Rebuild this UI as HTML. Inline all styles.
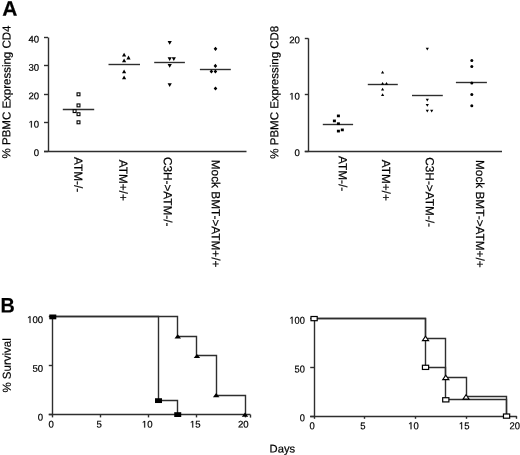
<!DOCTYPE html>
<html><head><meta charset="utf-8"><style>
html,body{margin:0;padding:0;background:#fff;}
svg{display:block;filter:grayscale(1);}
text{font-family:"Liberation Sans", sans-serif;fill:#000;stroke:#000;stroke-width:0.2px;}
</style></head><body>
<svg width="520" height="455" viewBox="0 0 520 455">
<rect width="520" height="455" fill="#fff"/>
<text x="2.3" y="15.8" font-size="21" text-anchor="start" font-weight="bold" transform="rotate(0.05 2.3 15.8)">A</text>
<text transform="translate(0.4 312.5) rotate(0.05) scale(0.94 1)" font-size="21" font-weight="bold">B</text>
<line x1="48.5" y1="37.5" x2="48.5" y2="151" stroke="#2e2e2e" stroke-width="1.4"/>
<line x1="44" y1="151.5" x2="246.5" y2="151.5" stroke="#2e2e2e" stroke-width="1.4"/>
<line x1="44" y1="151.5" x2="48" y2="151.5" stroke="#2e2e2e" stroke-width="1.4"/>
<text transform="translate(33.861 155.9) rotate(0.05) scale(1.0 1)" font-size="9.6">0</text>
<line x1="44" y1="122.5" x2="48" y2="122.5" stroke="#2e2e2e" stroke-width="1.4"/>
<path transform="translate(28.522 127.525) scale(0.004687 -0.004687)" d="M515,0 L515,1237 L197,1010 L197,1180 L530,1409 L696,1409 L696,0 Z" fill="#000" stroke="#000" stroke-width="42.7"/>
<text transform="translate(33.861 127.525) rotate(0.05) scale(1.0 1)" font-size="9.6">0</text>
<line x1="44" y1="94.5" x2="48" y2="94.5" stroke="#2e2e2e" stroke-width="1.4"/>
<text transform="translate(28.522 99.15) rotate(0.05) scale(1.0 1)" font-size="9.6">2</text>
<text transform="translate(33.861 99.15) rotate(0.05) scale(1.0 1)" font-size="9.6">0</text>
<line x1="44" y1="65.5" x2="48" y2="65.5" stroke="#2e2e2e" stroke-width="1.4"/>
<text transform="translate(28.522 70.775) rotate(0.05) scale(1.0 1)" font-size="9.6">3</text>
<text transform="translate(33.861 70.775) rotate(0.05) scale(1.0 1)" font-size="9.6">0</text>
<line x1="44" y1="37.5" x2="48" y2="37.5" stroke="#2e2e2e" stroke-width="1.4"/>
<text transform="translate(28.522 42.4) rotate(0.05) scale(1.0 1)" font-size="9.6">4</text>
<text transform="translate(33.861 42.4) rotate(0.05) scale(1.0 1)" font-size="9.6">0</text>
<text x="10.4" y="92" font-size="11.5" text-anchor="middle" font-weight="normal" transform="rotate(-89.95 10.4 92)">% PBMC Expressing CD4</text>
<text x="74.2" y="157" font-size="11.8" text-anchor="start" font-weight="normal" transform="rotate(90.05 74.2 157)">ATM-/-</text>
<text x="119.3" y="159.7" font-size="11.8" text-anchor="start" font-weight="normal" transform="rotate(90.05 119.3 159.7)">ATM+/+</text>
<text x="163.8" y="156.9" font-size="11.8" text-anchor="start" font-weight="normal" transform="rotate(90.05 163.8 156.9)">C3H-&gt;ATM-/-</text>
<text x="211.8" y="159.8" font-size="11.8" text-anchor="start" font-weight="normal" transform="rotate(90.05 211.8 159.8)">Mock BMT-&gt;ATM+/+</text>
<line x1="62.8" y1="109.5" x2="94.2" y2="109.5" stroke="#2e2e2e" stroke-width="1.4"/>
<line x1="108.5" y1="64.5" x2="140" y2="64.5" stroke="#2e2e2e" stroke-width="1.4"/>
<line x1="154.2" y1="62.5" x2="184.9" y2="62.5" stroke="#2e2e2e" stroke-width="1.4"/>
<line x1="199.9" y1="69.5" x2="230.8" y2="69.5" stroke="#2e2e2e" stroke-width="1.4"/>
<rect x="77.05" y="92.85" width="2.9" height="2.9" fill="#fff" stroke="#000" stroke-width="1.1"/>
<rect x="77.05" y="103.95" width="2.9" height="2.9" fill="#fff" stroke="#000" stroke-width="1.1"/>
<rect x="73.15" y="109.65" width="2.9" height="2.9" fill="#fff" stroke="#000" stroke-width="1.1"/>
<rect x="77.05" y="112.75" width="2.9" height="2.9" fill="#fff" stroke="#000" stroke-width="1.1"/>
<rect x="77.05" y="120.85" width="2.9" height="2.9" fill="#fff" stroke="#000" stroke-width="1.1"/>
<polygon points="124.1,52.800000000000004 126.19999999999999,56.6 122.0,56.6" fill="#000"/>
<polygon points="128.5,55.6 130.6,59.4 126.4,59.4" fill="#000"/>
<polygon points="124.1,58.5 126.19999999999999,62.3 122.0,62.3" fill="#000"/>
<polygon points="124.1,69.5 126.19999999999999,73.30000000000001 122.0,73.30000000000001" fill="#000"/>
<polygon points="124.1,75.39999999999999 126.19999999999999,79.2 122.0,79.2" fill="#000"/>
<polygon points="169.7,44.699999999999996 171.79999999999998,40.9 167.6,40.9" fill="#000"/>
<polygon points="169.7,61.1 171.79999999999998,57.300000000000004 167.6,57.300000000000004" fill="#000"/>
<polygon points="173.8,61.1 175.9,57.300000000000004 171.70000000000002,57.300000000000004" fill="#000"/>
<polygon points="169.7,67.7 171.79999999999998,63.9 167.6,63.9" fill="#000"/>
<polygon points="169.7,87.0 171.79999999999998,83.19999999999999 167.6,83.19999999999999" fill="#000"/>
<polygon points="215.5,46.699999999999996 217.3,48.8 215.5,50.9 213.7,48.8" fill="#000"/>
<polygon points="215.4,63.800000000000004 217.20000000000002,65.9 215.4,68.0 213.6,65.9" fill="#000"/>
<polygon points="211.4,69.4 213.20000000000002,71.5 211.4,73.6 209.6,71.5" fill="#000"/>
<polygon points="215.4,69.4 217.20000000000002,71.5 215.4,73.6 213.6,71.5" fill="#000"/>
<polygon points="215.5,86.4 217.3,88.5 215.5,90.6 213.7,88.5" fill="#000"/>
<line x1="308.5" y1="38.4" x2="308.5" y2="151" stroke="#2e2e2e" stroke-width="1.4"/>
<line x1="304.8" y1="151.5" x2="502" y2="151.5" stroke="#2e2e2e" stroke-width="1.4"/>
<line x1="304.8" y1="151.5" x2="308.5" y2="151.5" stroke="#2e2e2e" stroke-width="1.4"/>
<text transform="translate(294.561 155.9) rotate(0.05) scale(1.0 1)" font-size="9.6">0</text>
<line x1="304.8" y1="94.5" x2="308.5" y2="94.5" stroke="#2e2e2e" stroke-width="1.4"/>
<path transform="translate(289.222 99.60000000000001) scale(0.004687 -0.004687)" d="M515,0 L515,1237 L197,1010 L197,1180 L530,1409 L696,1409 L696,0 Z" fill="#000" stroke="#000" stroke-width="42.7"/>
<text transform="translate(294.561 99.60000000000001) rotate(0.05) scale(1.0 1)" font-size="9.6">0</text>
<line x1="304.8" y1="38.5" x2="308.5" y2="38.5" stroke="#2e2e2e" stroke-width="1.4"/>
<text transform="translate(289.222 43.300000000000004) rotate(0.05) scale(1.0 1)" font-size="9.6">2</text>
<text transform="translate(294.561 43.300000000000004) rotate(0.05) scale(1.0 1)" font-size="9.6">0</text>
<text x="278.3" y="92.2" font-size="11.5" text-anchor="middle" font-weight="normal" transform="rotate(-89.95 278.3 92.2)">% PBMC Expressing CD8</text>
<text x="338.8" y="156.0" font-size="11.8" text-anchor="start" font-weight="normal" transform="rotate(90.05 338.8 156.0)">ATM-/-</text>
<text x="382.1" y="159.7" font-size="11.8" text-anchor="start" font-weight="normal" transform="rotate(90.05 382.1 159.7)">ATM+/+</text>
<text x="425.7" y="157.3" font-size="11.8" text-anchor="start" font-weight="normal" transform="rotate(90.05 425.7 157.3)">C3H-&gt;ATM-/-</text>
<text x="476.1" y="160.0" font-size="11.8" text-anchor="start" font-weight="normal" transform="rotate(90.05 476.1 160.0)">Mock BMT-&gt;ATM+/+</text>
<line x1="322.8" y1="124.5" x2="353.1" y2="124.5" stroke="#2e2e2e" stroke-width="1.4"/>
<line x1="367.8" y1="84.5" x2="397.8" y2="84.5" stroke="#2e2e2e" stroke-width="1.4"/>
<line x1="412" y1="95.5" x2="442.8" y2="95.5" stroke="#2e2e2e" stroke-width="1.4"/>
<line x1="455.9" y1="82.5" x2="486.9" y2="82.5" stroke="#2e2e2e" stroke-width="1.4"/>
<rect x="336.90" y="114.55" width="3" height="2.7" fill="#000"/>
<rect x="332.90" y="119.55" width="3" height="2.7" fill="#000"/>
<rect x="336.90" y="122.35" width="3" height="2.7" fill="#000"/>
<rect x="340.80" y="128.55" width="3" height="2.7" fill="#000"/>
<rect x="336.90" y="129.75" width="3" height="2.7" fill="#000"/>
<polygon points="382.6,70.8 384.20000000000005,73.60000000000001 381.0,73.60000000000001" fill="#000"/>
<polygon points="382.6,81.89999999999999 384.20000000000005,84.7 381.0,84.7" fill="#000"/>
<polygon points="386.5,81.89999999999999 388.1,84.7 384.9,84.7" fill="#000"/>
<polygon points="382.6,87.69999999999999 384.20000000000005,90.5 381.0,90.5" fill="#000"/>
<polygon points="382.6,93.3 384.20000000000005,96.10000000000001 381.0,96.10000000000001" fill="#000"/>
<polygon points="427.3,50.5 428.90000000000003,47.7 425.7,47.7" fill="#000"/>
<polygon points="427.3,101.5 428.90000000000003,98.69999999999999 425.7,98.69999999999999" fill="#000"/>
<polygon points="427.3,106.80000000000001 428.90000000000003,104.0 425.7,104.0" fill="#000"/>
<polygon points="427.3,112.60000000000001 428.90000000000003,109.8 425.7,109.8" fill="#000"/>
<polygon points="431.7,112.60000000000001 433.3,109.8 430.09999999999997,109.8" fill="#000"/>
<circle cx="471.8" cy="60.6" r="1.5" fill="#000"/>
<circle cx="471.8" cy="66.5" r="1.5" fill="#000"/>
<circle cx="471.8" cy="83" r="1.5" fill="#000"/>
<circle cx="471.8" cy="94.5" r="1.5" fill="#000"/>
<circle cx="471.8" cy="105.8" r="1.5" fill="#000"/>
<line x1="52.5" y1="316.9" x2="52.5" y2="414.6" stroke="#2e2e2e" stroke-width="1.4"/>
<line x1="48.8" y1="414.5" x2="250.4" y2="414.5" stroke="#2e2e2e" stroke-width="1.4"/>
<line x1="250.5" y1="414.6" x2="250.5" y2="417.6" stroke="#2e2e2e" stroke-width="1.4"/>
<line x1="48.8" y1="414.5" x2="52.8" y2="414.5" stroke="#2e2e2e" stroke-width="1.4"/>
<text transform="translate(37.861 420.6) rotate(0.05) scale(1.0 1)" font-size="9.6">0</text>
<line x1="48.8" y1="365.5" x2="52.8" y2="365.5" stroke="#2e2e2e" stroke-width="1.4"/>
<text transform="translate(32.522 371.75) rotate(0.05) scale(1.0 1)" font-size="9.6">5</text>
<text transform="translate(37.861 371.75) rotate(0.05) scale(1.0 1)" font-size="9.6">0</text>
<line x1="48.8" y1="316.5" x2="52.8" y2="316.5" stroke="#2e2e2e" stroke-width="1.4"/>
<path transform="translate(27.183 322.9) scale(0.004687 -0.004687)" d="M515,0 L515,1237 L197,1010 L197,1180 L530,1409 L696,1409 L696,0 Z" fill="#000" stroke="#000" stroke-width="42.7"/>
<text transform="translate(32.522 322.9) rotate(0.05) scale(1.0 1)" font-size="9.6">0</text>
<text transform="translate(37.861 322.9) rotate(0.05) scale(1.0 1)" font-size="9.6">0</text>
<line x1="52.5" y1="414.6" x2="52.5" y2="417.4" stroke="#2e2e2e" stroke-width="1.4"/>
<text transform="translate(48.430 427.6) rotate(0.05) scale(1.0 1)" font-size="9.6">0</text>
<line x1="100.5" y1="414.6" x2="100.5" y2="417.4" stroke="#2e2e2e" stroke-width="1.4"/>
<text transform="translate(96.480 427.6) rotate(0.05) scale(1.0 1)" font-size="9.6">5</text>
<line x1="148.5" y1="414.6" x2="148.5" y2="417.4" stroke="#2e2e2e" stroke-width="1.4"/>
<path transform="translate(141.861 427.6) scale(0.004687 -0.004687)" d="M515,0 L515,1237 L197,1010 L197,1180 L530,1409 L696,1409 L696,0 Z" fill="#000" stroke="#000" stroke-width="42.7"/>
<text transform="translate(147.200 427.6) rotate(0.05) scale(1.0 1)" font-size="9.6">0</text>
<line x1="196.5" y1="414.6" x2="196.5" y2="417.4" stroke="#2e2e2e" stroke-width="1.4"/>
<path transform="translate(189.911 427.6) scale(0.004687 -0.004687)" d="M515,0 L515,1237 L197,1010 L197,1180 L530,1409 L696,1409 L696,0 Z" fill="#000" stroke="#000" stroke-width="42.7"/>
<text transform="translate(195.250 427.6) rotate(0.05) scale(1.0 1)" font-size="9.6">5</text>
<line x1="245.5" y1="414.6" x2="245.5" y2="417.4" stroke="#2e2e2e" stroke-width="1.4"/>
<text transform="translate(237.961 427.6) rotate(0.05) scale(1.0 1)" font-size="9.6">2</text>
<text transform="translate(243.300 427.6) rotate(0.05) scale(1.0 1)" font-size="9.6">0</text>
<text x="10.8" y="365.4" font-size="11.5" text-anchor="middle" font-weight="normal" transform="rotate(-89.95 10.8 365.4)">% Survival</text>
<polyline points="52.50,316.50 158.50,316.50 158.50,400.50 177.50,400.50 177.50,414.50" fill="none" stroke="#2e2e2e" stroke-width="1.4"/>
<polyline points="52.50,316.50 177.50,316.50 177.50,336.50 196.50,336.50 196.50,355.50 216.50,355.50 216.50,395.50 245.50,395.50 245.50,414.50" fill="none" stroke="#2e2e2e" stroke-width="1.4"/>
<rect x="49.30" y="314.50" width="7" height="4.8" fill="#000"/>
<rect x="155.01" y="398.23" width="7" height="4.8" fill="#000"/>
<rect x="174.23" y="412.20" width="7" height="4.8" fill="#000"/>
<polygon points="177.73,334.34 180.98,338.54 174.48,338.54" fill="#000"/>
<polygon points="196.95,353.88 200.2,358.08000000000004 193.7,358.08000000000004" fill="#000"/>
<polygon points="216.17000000000002,392.96 219.42000000000002,397.16 212.92000000000002,397.16" fill="#000"/>
<polygon points="245.0,412.5 248.25,416.70000000000005 241.75,416.70000000000005" fill="#000"/>
<line x1="314.5" y1="318.6" x2="314.5" y2="416.1" stroke="#2e2e2e" stroke-width="1.4"/>
<line x1="310.2" y1="416.5" x2="516.7" y2="416.5" stroke="#2e2e2e" stroke-width="1.4"/>
<line x1="310.2" y1="416.5" x2="314.1" y2="416.5" stroke="#2e2e2e" stroke-width="1.4"/>
<text transform="translate(299.728 421.20000000000005) rotate(0.05) scale(0.93 1)" font-size="10">0</text>
<line x1="310.2" y1="367.5" x2="314.1" y2="367.5" stroke="#2e2e2e" stroke-width="1.4"/>
<text transform="translate(294.556 372.45000000000005) rotate(0.05) scale(0.93 1)" font-size="10">5</text>
<text transform="translate(299.728 372.45000000000005) rotate(0.05) scale(0.93 1)" font-size="10">0</text>
<line x1="310.2" y1="318.5" x2="314.1" y2="318.5" stroke="#2e2e2e" stroke-width="1.4"/>
<path transform="translate(289.383 323.70000000000005) scale(0.004541 -0.004883)" d="M515,0 L515,1237 L197,1010 L197,1180 L530,1409 L696,1409 L696,0 Z" fill="#000" stroke="#000" stroke-width="41.0"/>
<text transform="translate(294.556 323.70000000000005) rotate(0.05) scale(0.93 1)" font-size="10">0</text>
<text transform="translate(299.728 323.70000000000005) rotate(0.05) scale(0.93 1)" font-size="10">0</text>
<line x1="314.5" y1="416.1" x2="314.5" y2="418.8" stroke="#2e2e2e" stroke-width="1.4"/>
<text transform="translate(309.558 429.2) rotate(0.05) scale(0.95 1)" font-size="10">0</text>
<line x1="364.5" y1="416.1" x2="364.5" y2="418.8" stroke="#2e2e2e" stroke-width="1.4"/>
<text transform="translate(360.208 429.2) rotate(0.05) scale(0.95 1)" font-size="10">5</text>
<line x1="415.5" y1="416.1" x2="415.5" y2="418.8" stroke="#2e2e2e" stroke-width="1.4"/>
<path transform="translate(408.217 429.2) scale(0.004639 -0.004883)" d="M515,0 L515,1237 L197,1010 L197,1180 L530,1409 L696,1409 L696,0 Z" fill="#000" stroke="#000" stroke-width="41.0"/>
<text transform="translate(413.500 429.2) rotate(0.05) scale(0.95 1)" font-size="10">0</text>
<line x1="466.5" y1="416.1" x2="466.5" y2="418.8" stroke="#2e2e2e" stroke-width="1.4"/>
<path transform="translate(458.867 429.2) scale(0.004639 -0.004883)" d="M515,0 L515,1237 L197,1010 L197,1180 L530,1409 L696,1409 L696,0 Z" fill="#000" stroke="#000" stroke-width="41.0"/>
<text transform="translate(464.150 429.2) rotate(0.05) scale(0.95 1)" font-size="10">5</text>
<line x1="516.5" y1="416.1" x2="516.5" y2="418.8" stroke="#2e2e2e" stroke-width="1.4"/>
<text transform="translate(509.517 429.2) rotate(0.05) scale(0.95 1)" font-size="10">2</text>
<text transform="translate(514.800 429.2) rotate(0.05) scale(0.95 1)" font-size="10">0</text>
<text x="269.6" y="452.5" font-size="11.2" text-anchor="start" font-weight="normal" transform="rotate(0.05 269.6 452.5)">Days</text>
<polyline points="314.50,318.50 425.50,318.50 425.50,338.50 445.50,338.50 445.50,377.50 466.50,377.50 466.50,396.50 506.50,396.50 506.50,416.50" fill="none" stroke="#2e2e2e" stroke-width="1.4"/>
<polyline points="314.50,318.50 425.50,318.50 425.50,367.50 445.50,367.50 445.50,399.50 506.50,399.50 506.50,416.50" fill="none" stroke="#2e2e2e" stroke-width="1.4"/>
<rect x="311.00" y="316.50" width="6.2" height="4.2" fill="#fff" stroke="#000" stroke-width="1.2"/>
<rect x="422.43" y="365.25" width="6.2" height="4.2" fill="#fff" stroke="#000" stroke-width="1.2"/>
<rect x="442.69" y="397.72" width="6.2" height="4.2" fill="#fff" stroke="#000" stroke-width="1.2"/>
<rect x="503.47" y="414.00" width="6.2" height="4.2" fill="#fff" stroke="#000" stroke-width="1.2"/>
<polygon points="425.53000000000003,336.20000000000005 428.63000000000005,340.6 422.43,340.6" fill="#fff" stroke="#000" stroke-width="1.1" stroke-linejoin="miter"/>
<polygon points="445.79,375.20000000000005 448.89000000000004,379.6 442.69,379.6" fill="#fff" stroke="#000" stroke-width="1.1" stroke-linejoin="miter"/>
<polygon points="466.05000000000007,394.70000000000005 469.1500000000001,399.1 462.95000000000005,399.1" fill="#fff" stroke="#000" stroke-width="1.1" stroke-linejoin="miter"/>
</svg>
</body></html>
